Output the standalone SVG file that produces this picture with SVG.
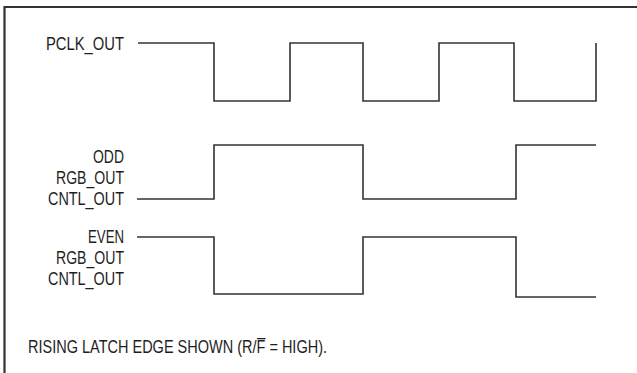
<svg xmlns="http://www.w3.org/2000/svg" width="637" height="373" viewBox="0 0 637 373">
<style>
text{font-family:"Liberation Sans",Arial,sans-serif;font-size:17.5px;fill:#1e1e1e}
.lbl{text-anchor:end}
.w{fill:none;stroke:#333;stroke-width:1.6}
.frame{fill:none;stroke:#333;stroke-width:2.2}
</style>
<rect width="637" height="373" fill="#fff"/>
<path class="frame" d="M4.5,373 V7 H637"/>
<g id="pclk">
<text class="lbl" x="124" y="49.5" textLength="78" lengthAdjust="spacingAndGlyphs">PCLK_OUT</text>
</g>
<g id="odd">
<text class="lbl" x="124" y="162.5" textLength="31" lengthAdjust="spacingAndGlyphs">ODD</text>
<text class="lbl" x="124" y="183.5" textLength="68" lengthAdjust="spacingAndGlyphs">RGB_OUT</text>
<text class="lbl" x="124" y="205" textLength="76" lengthAdjust="spacingAndGlyphs">CNTL_OUT</text>
</g>
<g id="even">
<text class="lbl" x="124" y="243" textLength="36" lengthAdjust="spacingAndGlyphs">EVEN</text>
<text class="lbl" x="124" y="264" textLength="68" lengthAdjust="spacingAndGlyphs">RGB_OUT</text>
<text class="lbl" x="124" y="285" textLength="76" lengthAdjust="spacingAndGlyphs">CNTL_OUT</text>
</g>
<g id="note">
<text x="28" y="352.5" textLength="299" lengthAdjust="spacingAndGlyphs">RISING LATCH EDGE SHOWN (R/F̅ = HIGH).</text>
</g>
<g id="connectors">
<path class="w" d="M138,43 H214 V101 H290 V43 H363 V101 H439 V43 H514 V101 H596 V43"/>
<path class="w" d="M137,199 H214 V145 H363 V199 H516 V145 H596"/>
<path class="w" d="M137,237 H214 V294 H363 V237 H516 V297 H596"/>
</g>
</svg>
